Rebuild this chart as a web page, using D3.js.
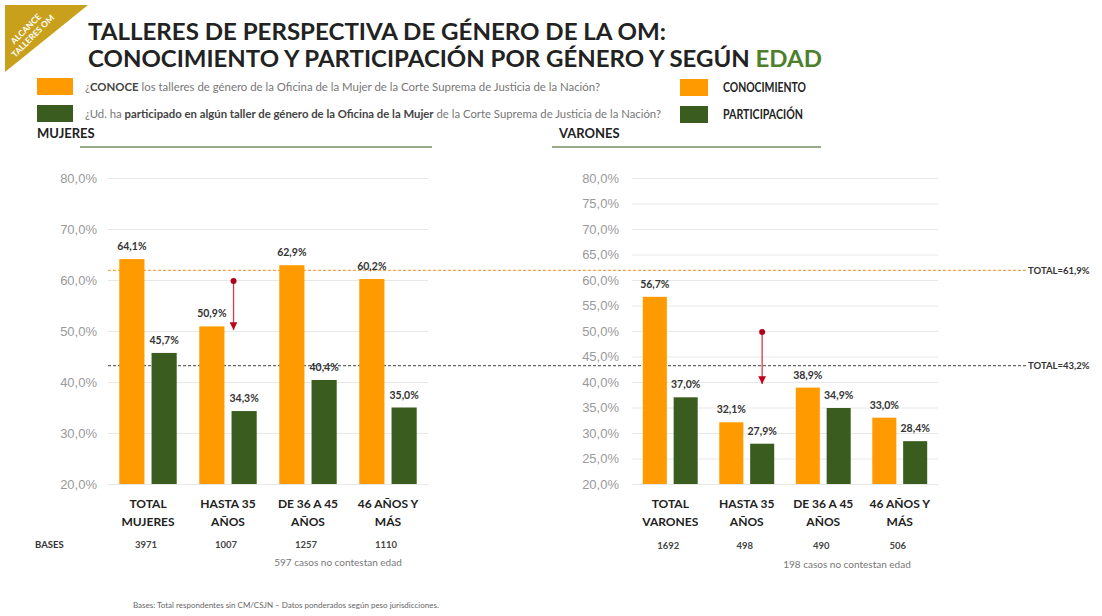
<!DOCTYPE html>
<html lang="es">
<head>
<meta charset="utf-8">
<title>Talleres de perspectiva de género de la OM</title>
<script src="https://d3js.org/d3.v7.min.js"></script>
<style>
  body { margin: 0; background: #fff; }
  svg { display: block; font-family: Lato, "Open Sans", sans-serif; }
  .grid line { stroke: #e8e8e8; stroke-width: 1; }
  .grid text { fill: #9a9a9a; font-size: 13px; }
  .valor { font-size: 10.5px; font-weight: bold; fill: #333; text-anchor: middle; }
  .cat { font-size: 12px; font-weight: bold; fill: #222; text-anchor: middle; }
  .base { font-size: 9.5px; font-weight: bold; fill: #444; text-anchor: middle; }
  .nota { font-size: 10px; fill: #777; text-anchor: middle; }
</style>
</head>
<body>
<div id="chart"></div>
<script>
// datos
var series = ["conocimiento", "participacion"];
var categoriasMujeres = [["TOTAL", "MUJERES"], ["HASTA 35", "AÑOS"], ["DE 36 A 45", "AÑOS"], ["46 AÑOS Y", "MÁS"]];
var conocimientoMujeres = [64.1, 50.9, 62.9, 60.2];
var participacionMujeres = [45.7, 34.3, 40.4, 35.0];
var basesMujeres = [3971, 1007, 1257, 1110];

var categoriasVarones = [["TOTAL", "VARONES"], ["HASTA 35", "AÑOS"], ["DE 36 A 45", "AÑOS"], ["46 AÑOS Y", "MÁS"]];
var conocimientoVarones = [56.7, 32.1, 38.9, 33.0];
var participacionVarones = [37.0, 27.9, 34.9, 28.4];
var basesVarones = [1692, 498, 490, 506];

var ticksMujeres = [20, 30, 40, 50, 60, 70, 80];
var ticksVarones = [20, 25, 30, 35, 40, 45, 50, 55, 60, 65, 70, 75, 80];
var totalConocimiento = 61.9;
var totalParticipacion = 43.2;
// flechas rojas [desde, hasta]
var flechaMujeres = [59.8, 50.2];
var flechaVarones = [49.8, 39.6];

var width = 1102, height = 616;
var naranja = "#ff9a00", verde = "#3a5c1f";

var es = d3.formatLocale({decimal: ",", thousands: ".", grouping: [3], currency: ["", "$"]});
var pct = function(v){ return es.format(".1f")(v) + "%"; };

var svg = d3.select("#chart").append("svg")
  .attr("width", width).attr("height", height);

var defs = svg.append("defs");
defs.append("marker").attr("id", "punta")
  .attr("viewBox", "0 0 10 10").attr("refX", 10).attr("refY", 5)
  .attr("markerWidth", 6).attr("markerHeight", 6).attr("orient", "auto")
  .append("path").attr("d", "M0,0 L10,5 L0,10 Z").attr("fill", "#c0001a");

var y = d3.scaleLinear().domain([20, 80]).range([484, 178]);

// esquina
svg.append("path").attr("d", "M5,5 L88,5 L5,72 Z").attr("fill", "#c9a01c");
svg.append("text").attr("transform", "translate(28,31) rotate(-45)")
  .attr("text-anchor", "middle").attr("fill", "#fff").attr("font-size", 8.5).attr("font-weight", "bold")
  .selectAll("tspan").data(["ALCANCE", "TALLERES OM"]).enter().append("tspan")
  .attr("x", 0).attr("dy", function(d, i){ return i ? 10 : 0; }).text(function(d){ return d; });

// titulo
svg.append("text").attr("x", 88).attr("y", 40).attr("font-size", 23).attr("font-weight", "bold").attr("fill", "#222")
  .attr("textLength", 578).attr("lengthAdjust", "spacingAndGlyphs")
  .text("TALLERES DE PERSPECTIVA DE GÉNERO DE LA OM:");
var t2 = svg.append("text").attr("x", 88).attr("y", 67).attr("font-size", 23).attr("font-weight", "bold").attr("fill", "#222")
  .attr("textLength", 734).attr("lengthAdjust", "spacingAndGlyphs");
t2.append("tspan").text("CONOCIMIENTO Y PARTICIPACIÓN POR GÉNERO Y SEGÚN ");
t2.append("tspan").attr("fill", "#4e7f2c").text("EDAD");

// leyenda preguntas
svg.append("rect").attr("x", 37).attr("y", 78).attr("width", 36).attr("height", 17).attr("fill", naranja);
svg.append("rect").attr("x", 37).attr("y", 105).attr("width", 36).attr("height", 17).attr("fill", verde);
var q1 = svg.append("text").attr("x", 85).attr("y", 91).attr("font-size", 11).attr("fill", "#777")
  .attr("textLength", 515).attr("lengthAdjust", "spacingAndGlyphs");
q1.append("tspan").text("¿");
q1.append("tspan").attr("font-weight", "bold").attr("fill", "#444").text("CONOCE");
q1.append("tspan").text(" los talleres de género de la Oficina de la Mujer de la Corte Suprema  de Justicia de la Nación?");
var q2 = svg.append("text").attr("x", 85).attr("y", 118).attr("font-size", 11).attr("fill", "#777")
  .attr("textLength", 576).attr("lengthAdjust", "spacingAndGlyphs");
q2.append("tspan").text("¿Ud. ha ");
q2.append("tspan").attr("font-weight", "bold").attr("fill", "#444").text("participado en algún taller de género de la Oficina de la Mujer");
q2.append("tspan").text(" de la Corte Suprema  de Justicia de la Nación?");

// leyenda series
svg.append("rect").attr("x", 680).attr("y", 79).attr("width", 28).attr("height", 17).attr("fill", naranja);
svg.append("rect").attr("x", 680).attr("y", 106).attr("width", 28).attr("height", 17).attr("fill", verde);
svg.append("text").attr("x", 723).attr("y", 92).attr("font-size", 12.5).attr("font-weight", "bold").attr("fill", "#222")
  .attr("textLength", 83).attr("lengthAdjust", "spacingAndGlyphs").text("CONOCIMIENTO");
svg.append("text").attr("x", 723).attr("y", 119).attr("font-size", 12.5).attr("font-weight", "bold").attr("fill", "#222")
  .attr("textLength", 80).attr("lengthAdjust", "spacingAndGlyphs").text("PARTICIPACIÓN");

// lineas totales
svg.append("line").attr("x1", 108).attr("x2", 1026)
  .attr("y1", y(totalConocimiento)).attr("y2", y(totalConocimiento))
  .attr("stroke", "#f5a54a").attr("stroke-width", 1.2).attr("stroke-dasharray", "3,2");
svg.append("line").attr("x1", 108).attr("x2", 1026)
  .attr("y1", y(totalParticipacion)).attr("y2", y(totalParticipacion))
  .attr("stroke", "#666").attr("stroke-width", 1.2).attr("stroke-dasharray", "3,2");
svg.append("text").attr("x", 1028).attr("y", y(totalConocimiento) + 3.5).attr("font-size", 9.5).attr("font-weight", "bold").attr("fill", "#333")
  .text("TOTAL=" + pct(totalConocimiento));
svg.append("text").attr("x", 1028).attr("y", y(totalParticipacion) + 3.5).attr("font-size", 9.5).attr("font-weight", "bold").attr("fill", "#333")
  .text("TOTAL=" + pct(totalParticipacion));

function dibujar(cfg) {
  var g = svg.append("g");

  // encabezado del panel
  g.append("text").attr("x", cfg.tituloX).attr("y", 138).attr("font-size", 13).attr("font-weight", "bold").attr("fill", "#222").text(cfg.titulo);
  g.append("line").attr("x1", cfg.linea[0]).attr("x2", cfg.linea[1]).attr("y1", 147).attr("y2", 147)
    .attr("stroke", "#9aa88a").attr("stroke-width", 2);

  var x = d3.scaleBand().domain(d3.range(cfg.categorias.length)).range(cfg.rango);
  var xs = d3.scaleBand().domain(series).range([0, x.bandwidth()]).paddingInner(0.22).paddingOuter(0.35);

  var eje = d3.axisLeft(y).tickValues(cfg.ticks).tickFormat(pct)
    .tickSize(-(cfg.rango[1] - cfg.rango[0])).tickPadding(cfg.pad);
  g.append("g").attr("class", "grid").attr("transform", "translate(" + cfg.rango[0] + ",0)").call(eje)
    .call(function(s){ s.select(".domain").remove(); });

  var filas = cfg.categorias.map(function(c, i){
    return {i: i, conocimiento: cfg.conocimiento[i], participacion: cfg.participacion[i]};
  });
  var grupos = g.selectAll(".grupo").data(filas).enter().append("g")
    .attr("transform", function(d){ return "translate(" + x(d.i) + ",0)"; });
  var barras = grupos.selectAll("g").data(function(d){
    return series.map(function(s){ return {serie: s, v: d[s]}; });
  }).enter().append("g");
  barras.append("rect")
    .attr("x", function(d){ return xs(d.serie); })
    .attr("width", xs.bandwidth())
    .attr("y", function(d){ return y(d.v); })
    .attr("height", function(d){ return y(20) - y(d.v); })
    .attr("fill", function(d){ return d.serie === "conocimiento" ? naranja : verde; });
  barras.append("text").attr("class", "valor")
    .attr("x", function(d){ return xs(d.serie) + xs.bandwidth() / 2; })
    .attr("y", function(d){ return y(d.v) - 9; })
    .text(function(d){ return pct(d.v); });

  // categorias
  var cats = g.selectAll(".cat").data(cfg.categorias).enter().append("text").attr("class", "cat");
  cats.selectAll("tspan").data(function(d, i){ return d.map(function(t){ return {t: t, i: i}; }); })
    .enter().append("tspan")
    .attr("x", function(d){ return x(d.i) + x.bandwidth() / 2; })
    .attr("y", function(d, j){ return 508 + j * 18; })
    .text(function(d){ return d.t; });

  g.selectAll(".base").data(cfg.bases).enter().append("text").attr("class", "base")
    .attr("x", function(d, i){ return x(i) + x.bandwidth() / 2 - 2; })
    .attr("y", cfg.basesY)
    .text(function(d){ return d; });
  g.append("text").attr("class", "nota").attr("x", cfg.notaX).attr("y", cfg.notaY).text(cfg.nota);

  // flecha
  var fx = x(1) + xs("participacion") + cfg.flechaDx;
  g.append("line").attr("x1", fx).attr("x2", fx)
    .attr("y1", y(cfg.flecha[0])).attr("y2", y(cfg.flecha[1]))
    .attr("stroke", "#d23a4a").attr("stroke-width", 1.3).attr("marker-end", "url(#punta)");
  g.append("circle").attr("cx", fx).attr("cy", y(cfg.flecha[0])).attr("r", 3).attr("fill", "#b0001a");
}

dibujar({
  titulo: "MUJERES", tituloX: 37, linea: [80, 432],
  categorias: categoriasMujeres, conocimiento: conocimientoMujeres, participacion: participacionMujeres,
  bases: basesMujeres, ticks: ticksMujeres, rango: [108, 428], pad: 11,
  basesY: 548, nota: "597 casos no contestan edad", notaX: 338, notaY: 566,
  flecha: flechaMujeres, flechaDx: 2
});
dibujar({
  titulo: "VARONES", tituloX: 559, linea: [552, 821],
  categorias: categoriasVarones, conocimiento: conocimientoVarones, participacion: participacionVarones,
  bases: basesVarones, ticks: ticksVarones, rango: [632, 938], pad: 13,
  basesY: 549, nota: "198 casos no contestan edad", notaX: 847, notaY: 568,
  flecha: flechaVarones, flechaDx: 12
});

svg.append("text").attr("x", 35).attr("y", 548).attr("font-size", 9.5).attr("font-weight", "bold").attr("fill", "#333").text("BASES");
svg.append("text").attr("x", 133).attr("y", 608).attr("font-size", 8).attr("fill", "#666")
  .text("Bases: Total respondentes  sin CM/CSJN – Datos ponderados según peso jurisdicciones.");
</script>
</body>
</html>
